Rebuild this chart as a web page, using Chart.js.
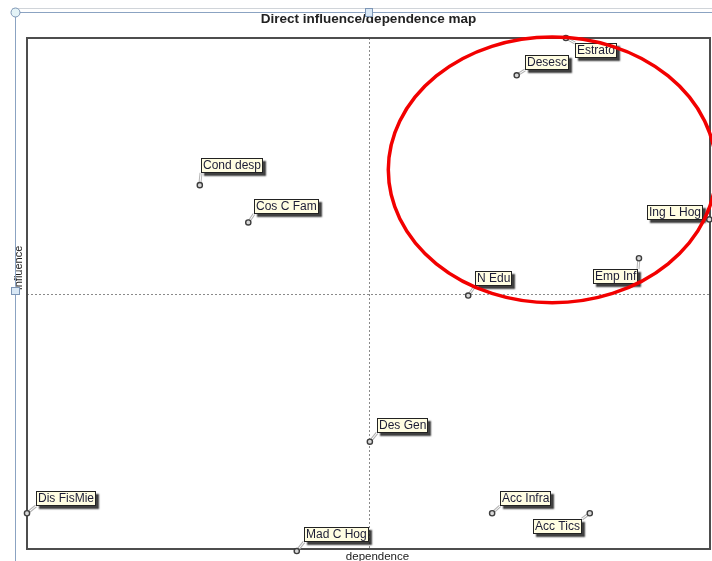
<!DOCTYPE html>
<html><head><meta charset="utf-8">
<script src="https://cdn.jsdelivr.net/npm/chart.js@4/dist/chart.umd.min.js"></script>
<style>html,body{margin:0;padding:0;background:#fff;overflow:hidden}canvas{display:block}</style>
</head><body>
<canvas id="c" width="712" height="561"></canvas>
<script>
// ---- data ----
const variables  = ['Estrato','Desesc','Cond desp','Cos C Fam','Ing L Hog','Emp Inf','N Edu','Des Gen','Dis FisMie','Mad C Hog','Acc Infra','Acc Tics'];
const dependence = [78.9, 71.7, 25.3, 32.4, 99.9, 89.6, 64.6, 50.2, 0.0, 39.5, 68.1, 82.4];
const influence  = [100.0, 92.7, 71.2, 63.9, 64.5, 56.9, 49.6, 21.0, 7.0, -0.4, 7.0, 7.0];
const axisMin = 0, axisMax = 100, axisMid = 50;
const titleText = 'Direct influence/dependence map';
const xAxisTitle = 'dependence';
const yAxisTitle = 'Influence';
// highlighted zone (data units): centre, radii
const zoneCenter = [76.9, 74.2];
const zoneRadii  = [24.0, 26.0];

// ---- label placement (pixel offsets of label box top-left from its point) ----
const labelOffsets = [[9,5],[8,-20],[1,-27],[6,-23],[-62,-14],[-46,11],[7,-25],[7,-24],[9,-22],[7,-24],[8,-22],[-57,6]];

const points = dependence.map((x,i)=>({x, y: influence[i]}));
const FONT = '"Liberation Sans", Arial, sans-serif';

function boxes(chart){
  const ctx = chart.ctx;
  ctx.font = '12px ' + FONT;
  const xs = chart.scales.x, ys = chart.scales.y;
  return variables.map((name,i)=>{
    const px = xs.getPixelForValue(dependence[i]);
    const py = ys.getPixelForValue(influence[i]);
    const w = Math.round(ctx.measureText(name).width) + 4;
    const h = 15;
    const bx = Math.round(px + labelOffsets[i][0]);
    const by = Math.round(py + labelOffsets[i][1]);
    return {name, px, py, bx, by, w, h};
  });
}

const mapPlugin = {
  id: 'mapPlugin',
  beforeDatasetsDraw(chart){
    const ctx = chart.ctx, a = chart.chartArea;
    const xs = chart.scales.x, ys = chart.scales.y;
    ctx.save();
    // mid lines
    ctx.strokeStyle = '#8a8a8a';
    ctx.lineWidth = 1;
    ctx.setLineDash([2,2]);
    const mx = Math.round(xs.getPixelForValue(axisMid)) + 0.5;
    const my = Math.round(ys.getPixelForValue(axisMid)) + 0.5;
    ctx.beginPath(); ctx.moveTo(a.left, my); ctx.lineTo(a.right, my); ctx.stroke();
    ctx.beginPath(); ctx.moveTo(mx, a.top); ctx.lineTo(mx, a.bottom); ctx.stroke();
    ctx.setLineDash([]);
    // plot border
    ctx.strokeStyle = '#4d4d4d';
    ctx.lineWidth = 2;
    ctx.strokeRect(a.left, a.top, a.right - a.left, a.bottom - a.top);
    // connectors
    boxes(chart).forEach(b=>{
      const corners = [[b.bx,b.by],[b.bx+b.w,b.by],[b.bx,b.by+b.h],[b.bx+b.w,b.by+b.h]];
      let best = corners[0], bd = 1e9;
      corners.forEach(c=>{const d=(c[0]-b.px)**2+(c[1]-b.py)**2; if(d<bd){bd=d;best=c;}});
      ctx.beginPath(); ctx.moveTo(b.px,b.py); ctx.lineTo(best[0],best[1]);
      ctx.strokeStyle = '#b5b5b5'; ctx.lineWidth = 3; ctx.stroke();
      ctx.beginPath(); ctx.moveTo(b.px,b.py); ctx.lineTo(best[0],best[1]);
      ctx.strokeStyle = '#ffffff'; ctx.lineWidth = 1; ctx.stroke();
    });
    ctx.restore();
  },
  afterDatasetsDraw(chart){
    const ctx = chart.ctx;
    ctx.save();
    boxes(chart).forEach(b=>{
      ctx.save();
      ctx.shadowColor = 'rgba(30,30,30,0.85)';
      ctx.shadowOffsetX = 3; ctx.shadowOffsetY = 3; ctx.shadowBlur = 1.5;
      ctx.fillStyle = '#fffde2';
      ctx.fillRect(b.bx, b.by, b.w, b.h);
      ctx.restore();
      ctx.strokeStyle = '#222'; ctx.lineWidth = 1;
      ctx.strokeRect(b.bx+0.5, b.by+0.5, b.w-1, b.h-1);
      ctx.fillStyle = '#1c1c36';
      ctx.font = '12px ' + FONT;
      ctx.textBaseline = 'middle'; ctx.textAlign = 'left';
      ctx.fillText(b.name, b.bx + 2, b.by + b.h/2 + 0.5);
    });
    ctx.restore();
  },
  afterDraw(chart){
    const ctx = chart.ctx, a = chart.chartArea;
    const xs = chart.scales.x, ys = chart.scales.y;
    ctx.save();
    // highlighted zone
    const cx = xs.getPixelForValue(zoneCenter[0]);
    const cy = ys.getPixelForValue(zoneCenter[1]);
    const rx = xs.getPixelForValue(zoneCenter[0] + zoneRadii[0]) - cx;
    const ry = cy - ys.getPixelForValue(zoneCenter[1] + zoneRadii[1]);
    ctx.beginPath(); ctx.ellipse(cx, cy, rx, ry, 0, 0, Math.PI*2);
    ctx.strokeStyle = '#f20000'; ctx.lineWidth = 3.5; ctx.stroke();
    // title and axis titles
    ctx.fillStyle = '#222';
    ctx.textAlign = 'center'; ctx.textBaseline = 'middle';
    ctx.font = 'bold 13.5px ' + FONT;
    ctx.fillText(titleText, (a.left + a.right)/2, 19);
    ctx.font = '11.5px ' + FONT;
    ctx.fillText(xAxisTitle, (a.left + a.right)/2 + 9, 557);
    ctx.save();
    ctx.translate(19, 268); ctx.rotate(-Math.PI/2);
    ctx.font = '11px ' + FONT;
    ctx.fillText(yAxisTitle, 0, 0);
    ctx.restore();
    // selection frame
    ctx.strokeStyle = '#d0d4d9'; ctx.lineWidth = 1;
    ctx.beginPath(); ctx.moveTo(12, 8.5); ctx.lineTo(712, 8.5); ctx.stroke();
    ctx.strokeStyle = '#8ba3c2';
    ctx.beginPath(); ctx.moveTo(15, 12.5); ctx.lineTo(712, 12.5); ctx.stroke();
    ctx.beginPath(); ctx.moveTo(15.5, 12); ctx.lineTo(15.5, 561); ctx.stroke();
    ctx.fillStyle = '#e4f3f7'; ctx.strokeStyle = '#7d96b6';
    ctx.beginPath(); ctx.arc(15.5, 12.5, 4.5, 0, Math.PI*2); ctx.fill(); ctx.stroke();
    ctx.fillStyle = '#d9e8f6';
    ctx.fillRect(365.5, 8.5, 7, 8); ctx.strokeRect(365.5, 8.5, 7, 8);
    ctx.fillRect(11.5, 287.5, 8, 7); ctx.strokeRect(11.5, 287.5, 8, 7);
    ctx.restore();
  }
};

new Chart(document.getElementById('c'), {
  type: 'scatter',
  data: { datasets: [{
    data: points,
    pointRadius: 2.6,
    pointBackgroundColor: '#d8d8d8',
    pointBorderColor: '#3d3d3d',
    pointBorderWidth: 1.4,
    clip: false
  }]},
  options: {
    responsive: false,
    animation: false,
    layout: { autoPadding: false, padding: { left: 27, top: 38, right: 2, bottom: 12 } },
    plugins: { legend: { display: false }, tooltip: { enabled: false }, title: { display: false } },
    scales: {
      x: { type: 'linear', min: axisMin, max: axisMax, display: false },
      y: { type: 'linear', min: axisMin, max: axisMax, display: false }
    }
  },
  plugins: [mapPlugin]
});
</script>
</body></html>
